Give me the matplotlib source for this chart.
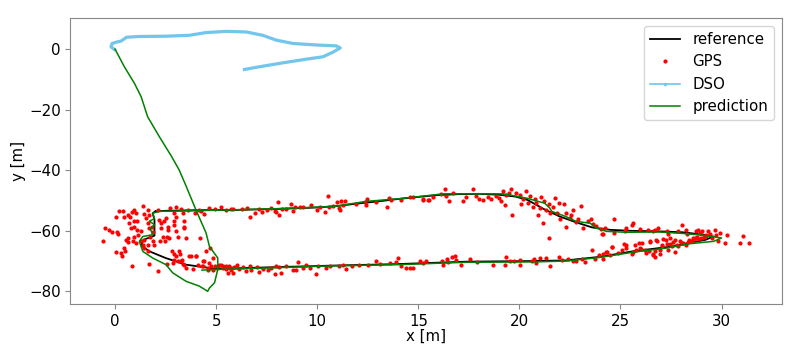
import numpy as np
import matplotlib
matplotlib.use('Agg')
from matplotlib import pyplot as plt

# reference trajectory (closed loop)
ref_x = [2.0, 2.5, 4.0, 6.0, 8.0, 10.0, 11.0, 12.0, 13.0, 14.0, 15.0, 16.0, 17.0, 18.0, 19.0,
         19.8, 20.4, 21.2, 22.0, 22.8, 23.6, 24.5, 25.5, 26.9, 28.1, 29.1, 29.6, 29.2, 28.4,
         27.3, 25.6, 24.0, 22.3, 20.7, 17.4, 14.0, 10.8, 7.5, 5.0, 3.5, 2.5, 1.7, 1.3, 1.4,
         1.95, 1.95, 1.86, 2.0]
ref_y = [-53.6, -53.4, -53.2, -53.1, -52.8, -52.3, -51.8, -51.0, -50.3, -49.5, -48.8, -48.2,
         -47.9, -47.8, -48.1, -48.7, -49.8, -52.8, -55.3, -57.2, -58.9, -59.7, -60.0, -60.2,
         -60.5, -61.3, -61.9, -63.0, -64.0, -65.4, -66.8, -68.6, -69.8, -70.0, -70.2, -71.0,
         -71.5, -72.1, -72.6, -71.2, -69.0, -66.8, -64.9, -63.0, -61.6, -56.4, -54.2, -53.6]

# GPS fixes
gps_x = [-0.61, -0.50, -0.28, -0.17, 0.10, 0.13, 0.06, 0.30, 0.33, 0.49, 0.46, 0.54, 0.62, 0.66,
         0.84, 0.05, 0.21, 0.38, 0.46, 0.62, 0.76, 0.82, 0.96, 1.04, 0.92, 1.09, 0.71, 0.79, 0.96,
         1.09, 1.12, 0.96, 0.87, 1.04, 1.29, 1.42, 1.37, 1.45, 1.62, 1.29, 1.37, 1.62, 1.45, 1.53,
         1.70, 1.65, 1.70, 1.81, 1.86, 1.75, 1.86, 1.95, 1.62, 1.67, 2.14, 2.11, 2.19, 2.28, 2.28,
         2.44, 2.52, 2.64, 2.60, 2.36, 2.24, 2.47, 2.57, 2.69, 2.74, 2.94, 3.02, 2.90, 2.94, 3.00,
         3.10, 2.80, 2.94, 3.02, 3.18, 3.23, 2.90, 3.10, 2.85, 2.57, 3.35, 3.40, 3.43, 3.51, 3.43,
         3.30, 3.43, 3.76, 4.01, 4.22, 3.93, 4.26, 4.42, 4.42, 4.67, 4.34, 4.59, 4.83, 4.92, 4.50,
         4.72, 5.33, 5.49, 5.66, 5.74, 3.02, 3.27, 3.63, 4.17, 4.67, 4.92, 5.25, 5.49, 5.74,
         5.82, 6.29, 6.52, 6.68, 6.90, 7.11, 7.28, 7.51, 7.72, 7.89, 7.97, 8.10, 8.05, 8.27, 8.47,
         8.71, 8.80, 8.88, 9.13, 9.29, 9.70, 9.98, 10.15, 10.36, 10.53, 10.58, 10.78, 10.97, 11.07,
         11.14, 11.19, 11.27, 11.35, 11.93, 12.34, 12.43, 12.46, 12.92, 13.45, 13.55, 13.66, 14.16,
         14.57, 14.74, 15.23, 15.53,
         15.23, 15.47, 15.72, 16.13, 16.30, 16.38, 16.54, 16.71, 17.21, 17.37, 17.70, 17.87, 18.00,
         18.20, 18.44, 18.61, 18.86, 18.99, 19.10, 19.19, 19.27, 19.32, 19.48, 19.60, 19.65, 19.85,
         20.01, 20.09, 20.18, 20.34, 20.42, 20.51, 20.67, 20.75, 20.84, 20.92, 21.00, 21.08, 21.17,
         21.20, 21.33, 21.46, 21.53, 21.66, 21.74, 21.86, 21.96, 21.99, 22.19, 22.29, 22.32, 22.49,
         22.57, 22.65, 22.78, 22.90, 23.06, 23.15, 23.39, 23.56, 23.64, 23.81, 24.05, 24.14, 21.46,
         24.11, 24.23, 24.67, 24.67, 25.27, 25.55, 25.63, 25.22, 25.96, 26.37, 26.62, 26.70, 26.87,
         27.28, 27.36, 27.45, 27.69, 27.86, 28.02, 28.24, 28.30, 28.40, 28.57, 28.73, 28.85, 28.93,
         29.01, 29.13, 29.23, 29.34, 29.43, 29.51, 29.67, 29.72, 29.84, 29.92, 30.17, 30.28, 30.91,
         31.04, 31.37,
         24.31, 24.56, 25.17, 25.27, 25.71, 25.96, 26.04, 26.21, 26.42, 26.46, 26.70, 26.82, 27.03,
         27.12, 27.28, 27.53, 27.61, 27.81, 27.94, 28.11, 28.35, 28.52, 28.68, 28.85, 26.62, 26.95,
         25.63, 24.15,
         3.26, 3.35, 3.68, 4.01, 3.51, 3.84, 4.09, 4.30, 4.37, 4.58, 4.75, 4.83, 5.16, 5.33, 5.49,
         5.57, 5.74, 5.82, 6.02, 6.15, 6.32, 6.48, 6.65, 6.73, 7.01, 7.11, 7.31, 7.55, 7.72, 7.93,
         7.97, 8.13, 8.21, 8.46, 8.79, 8.96, 9.04, 9.29, 9.42, 9.62, 9.95, 10.03, 10.44, 10.61,
         11.10, 11.27, 11.43, 11.73, 12.09, 12.50, 12.92, 13.08, 13.58, 13.91, 14.00, 14.15, 14.40,
         14.57, 14.73, 15.09, 15.23, 15.36, 16.46, 5.08, 5.24, 5.41, 5.66, 5.90,
         16.18, 16.22, 16.41, 16.68, 16.79, 16.88, 17.12, 17.57, 17.90, 18.69, 19.27, 19.35, 19.52,
         19.71, 20.01, 20.01, 20.64, 20.70, 20.84, 21.00, 21.30, 21.50, 21.96, 22.12, 22.40, 22.65,
         22.82, 23.11, 23.23, 23.61, 23.72, 23.94, 24.14, 24.30, 24.47, 24.60, 24.88, 25.09, 25.29,
         25.59, 25.75, 25.92, 26.03, 26.28, 26.45, 26.61, 26.69, 26.78, 26.94, 27.07, 27.27, 27.35,
         27.44, 27.68, 27.85, 28.06, 28.26, 28.43, 28.59, 28.76, 29.00, 29.25]
gps_y = [-63.3, -59.1, -59.7, -60.4, -60.4, -61.1, -67.0, -67.4, -68.2, -66.8, -65.7, -63.0, -62.4,
         -63.7, -71.7, -55.3, -53.6, -53.4, -55.3, -54.7, -55.6, -53.8, -53.1, -54.2, -56.9, -56.7,
         -57.5, -59.1, -58.6, -59.7, -61.3, -62.2, -63.5, -64.1, -63.5, -63.0, -64.6, -65.7, -64.6,
         -60.2, -51.7, -53.1, -54.5, -55.8, -54.9, -57.5, -59.1, -58.6, -60.4, -61.9, -63.5, -64.6,
         -66.8, -71.0, -73.2, -53.1, -56.4, -57.5, -59.1, -56.9, -55.8, -58.6, -59.7, -62.2, -63.5,
         -63.3, -61.9, -62.4, -52.5, -54.2, -55.3, -56.9, -58.0, -60.2, -61.9, -66.8, -67.7, -68.5,
         -66.8, -67.7, -69.5, -70.1, -70.6, -71.0, -54.2, -56.9, -59.1, -62.4, -58.6, -69.5, -71.2,
         -68.5, -68.5, -62.4, -54.2, -53.4, -54.5, -70.1, -70.6, -71.7, -72.8, -69.0, -71.7, -66.8,
         -65.7, -71.7, -72.5, -72.1, -72.8, -52.3, -52.7, -53.1, -53.1, -52.5, -52.7, -52.3, -53.1,
         -52.7,
         -52.7, -52.9, -52.5, -55.4, -54.2, -52.9, -53.8, -53.1, -52.5, -53.4, -53.8, -54.7, -50.5,
         -52.9, -52.7, -51.2, -53.4, -52.3, -52.3, -52.0, -51.4, -53.1, -52.3, -53.8, -48.6, -52.0,
         -51.9, -50.5, -52.5, -53.1, -50.1, -51.4, -50.3, -51.2, -50.5, -51.6, -49.4, -50.5, -52.0,
         -49.2, -49.8, -49.8, -48.7, -49.0, -49.8, -49.8,
         -49.6, -49.8, -48.7, -47.8, -46.3, -48.5, -50.0, -47.4, -50.0, -48.9, -46.3, -48.5, -49.6,
         -49.8, -48.9, -49.6, -48.5, -49.2, -50.0, -47.0, -51.4, -48.1, -47.6, -46.3, -54.7, -47.6,
         -48.1, -51.1, -49.6, -47.0, -50.9, -48.5, -52.2, -49.6, -50.9, -54.7, -52.5, -48.7, -57.5,
         -50.3, -53.3, -51.1, -54.2, -52.0, -49.2, -54.2, -50.7, -56.1, -51.1, -54.2, -58.6, -55.8,
         -54.7, -53.3, -57.2, -56.1, -51.8, -59.1, -56.9, -56.1, -57.7, -58.3, -59.4, -61.0, -62.4,
         -61.1, -59.1, -56.0, -60.8, -59.1, -58.2, -57.5, -60.0, -59.3, -59.7, -60.2, -59.7, -59.1,
         -60.0, -61.1, -62.4, -63.0, -60.2, -58.0, -59.7, -61.1, -63.0, -62.4, -60.2, -59.7, -60.8,
         -60.0, -62.2, -61.3, -60.0, -61.1, -62.4, -59.7, -61.5, -63.5, -60.8, -64.1, -61.5, -64.1,
         -61.8, -64.1,
         -67.0, -65.4, -64.4, -65.7, -64.8, -65.7, -64.1, -66.2, -66.8, -63.5, -66.6, -63.3, -64.8,
         -62.6, -64.4, -65.1, -63.7, -64.6, -63.3, -64.1, -63.7, -63.3, -62.4, -62.6, -67.9, -67.7,
         -67.0, -67.7,
         -70.1, -70.9, -68.4, -68.2, -72.3, -72.6, -71.2, -71.5, -70.1, -72.3, -71.5, -72.8, -71.2,
         -72.3, -71.5, -73.9, -72.3, -73.9, -71.2, -72.6, -72.0, -73.4, -71.7, -73.1, -72.0, -73.7,
         -72.6, -72.8, -72.3, -74.2, -71.5, -72.0, -73.9, -71.7, -72.8, -73.1, -70.4, -72.3, -71.2,
         -72.3, -74.2, -71.5, -72.3, -71.5, -71.7, -71.2, -72.6, -71.7, -71.2, -71.2, -70.1, -70.9,
         -70.6, -70.4, -69.0, -71.7, -72.3, -72.3, -72.3, -70.1, -70.6, -70.1, -70.4, -71.5, -71.2,
         -72.0, -71.5, -72.0,
         -69.9, -71.4, -69.2, -68.8, -68.4, -69.5, -71.4, -69.2, -70.3, -71.2, -71.4, -68.8, -70.1,
         -69.9, -71.2, -69.5, -69.9, -69.2, -70.6, -69.0, -69.0, -71.7, -68.8, -69.5, -69.2, -70.1,
         -69.9, -69.2, -70.3, -66.2, -69.2, -67.9, -69.2, -67.0, -68.1, -65.5, -67.3, -66.2, -64.6,
         -67.7, -66.2, -64.0, -65.9, -67.3, -63.7, -67.7, -68.8, -62.9, -66.2, -65.1, -62.9, -66.2,
         -64.4, -67.0, -65.1, -64.0, -64.8, -63.5, -62.9, -62.2, -62.4, -61.8]

# DSO odometry
dso_x = [-0.03, -0.2, -0.15, 0.05, 0.3, 0.57, 1.2, 2.52, 3.68, 4.5, 5.5, 6.49, 7.3, 7.97, 8.8,
         9.95, 10.94, 11.14, 10.77, 10.28, 9.46, 8.3, 7.14, 6.4]
dso_y = [-0.1, 0.77, 1.87, 2.3, 2.7, 3.96, 4.2, 4.3, 4.6, 5.5, 5.9, 5.7, 4.6, 3.0, 1.9, 1.4, 1.1,
         0.43, -1.0, -2.5, -3.3, -4.5, -5.8, -6.7]

# fused prediction
pred_x = [0.0, 0.46, 0.96, 1.29, 1.61, 2.19, 2.8, 3.17, 3.5, 4.0, 4.5, 4.67, 5.08, 5.08, 4.92,
          4.67, 4.58, 4.17, 3.51, 2.85, 2.52, 1.86, 1.37, 1.2, 1.37, 1.86, 1.75, 1.95, 1.7, 1.95,
          1.86, 2.19, 5.82, 8.0, 10.8, 12.4, 14.07, 15.06, 16.2, 18.2, 19.2, 20.35, 21.25, 21.5,
          21.6, 22.3, 22.8, 23.5, 23.8, 24.3, 25.3, 26.9, 28.1, 29.1, 30.0, 29.6, 28.4, 27.3,
          25.6, 24.0, 22.3, 20.7, 17.4, 14.0, 10.8, 7.5, 5.0, 4.3]
pred_y = [0.0, -5.8, -11.3, -15.7, -22.3, -28.9, -35.5, -39.9, -45.0, -53.1, -60.7, -65.2, -69.0,
          -72.8, -77.2, -78.9, -80.0, -78.3, -76.7, -73.9, -71.2, -69.0, -66.8, -63.5, -61.9,
          -61.3, -59.5, -58.0, -56.8, -56.0, -54.2, -53.6, -53.1, -52.7, -52.0, -50.3, -49.4,
          -48.7, -47.8, -47.8, -47.8, -49.2, -50.9, -52.5, -53.6, -55.3, -56.9, -57.5, -59.1,
          -60.2, -60.5, -60.4, -60.9, -61.5, -62.4, -63.5, -64.3, -65.7, -67.1, -68.8, -70.0,
          -70.3, -70.4, -71.2, -71.6, -72.3, -72.8, -73.0]

DSO_COLOR = '#72C5EB'

plt.rcParams['font.size'] = 10.8
fig = plt.figure(figsize=(8.0, 3.53), dpi=100)
ax = fig.add_axes([0.088, 0.138, 0.889, 0.810])

ax.plot(ref_x, ref_y, color='black', linewidth=1.3, label='reference')
ax.plot(gps_x, gps_y, '.', color='red', markersize=4, label='GPS')
ax.plot(dso_x, dso_y, '-', color=DSO_COLOR, linewidth=2.3)
ax.plot([], [], '.-', color=DSO_COLOR, linewidth=1.2, markersize=3, label='DSO')
ax.plot(pred_x, pred_y, color='green', linewidth=1.1, label='prediction')

ax.set_xlabel('x [m]', labelpad=0)
ax.set_ylabel('y [m]', labelpad=2)
ax.set_xticks([0, 5, 10, 15, 20, 25, 30])
ax.set_yticks([0, -20, -40, -60, -80])
for s in ax.spines.values():
    s.set_color('#888888')
ax.tick_params(color='#888888')
ax.legend(loc='upper right')

fig.savefig('out.png', dpi=100)
